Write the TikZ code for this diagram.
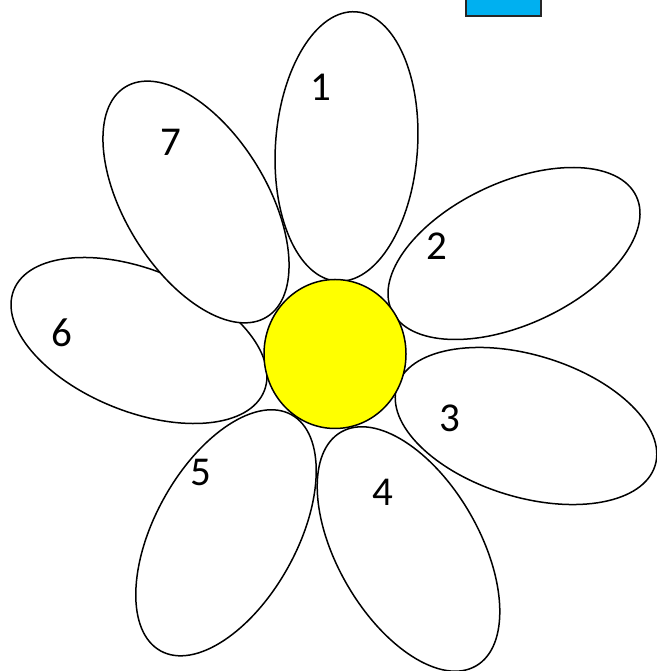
\documentclass[tikz,border=0pt]{standalone}
\usepackage{fontspec}
\setmainfont{Carlito}
\definecolor{skyblue}{HTML}{00B0F0}
\definecolor{sunyellow}{HTML}{FFFF00}
\begin{document}
\begin{tikzpicture}[x=1pt,y=1pt,
  petal/.style={draw=black, line width=1.5pt},
  lbl/.style={inner sep=0pt, font=\fontsize{41}{49}\selectfont}]
\useasboundingbox (0,0) rectangle (656,671);
% petals 6 and 7 (7 covers 6)
\draw[petal, fill=white, shift={(139,330.5)}, rotate=-22] (0,0) ellipse [x radius=135, y radius=71];
\draw[petal, fill=white, shift={(196,469)}, rotate=-58.4] (0,0) ellipse [x radius=135, y radius=71];
% remaining petals (outlines only)
\draw[petal, shift={(346.5,524.5)}, rotate=86] (0,0) ellipse [x radius=135, y radius=71];
\draw[petal, shift={(514,417.5)}, rotate=25] (0,0) ellipse [x radius=135, y radius=71];
\draw[petal, shift={(526,245)}, rotate=-17] (0,0) ellipse [x radius=135, y radius=71];
\draw[petal, shift={(408.5,122)}, rotate=-60] (0,0) ellipse [x radius=135, y radius=71];
\draw[petal, shift={(226,138.2)}, rotate=61] (0,0) ellipse [x radius=135, y radius=71];
% centre
\draw[petal, fill=sunyellow] (335,317) ellipse [x radius=71, y radius=74.5];
% blue box at top
\draw[draw=black!85, fill=skyblue, line width=1.5pt] (466,680) rectangle (541,655);
% labels
\node[lbl] (n1) at (321,583.3) {1};
\node[lbl] (n2) at (436.8,425) {2};
\node[lbl] (n3) at (450,253) {3};
\node[lbl] (n4) at (382.8,179) {4};
\node[lbl] (n5) at (200.8,198.2) {5};
\node[lbl] (n6) at (61.5,338) {6};
\node[lbl] (n7) at (170.7,528.5) {7};
\end{tikzpicture}
\end{document}
